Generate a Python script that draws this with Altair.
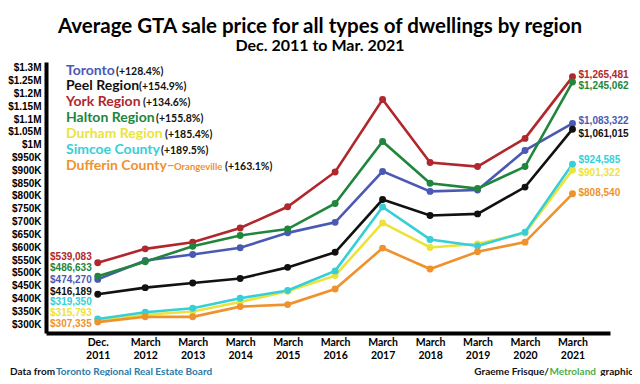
import json
import altair as alt
import pandas as pd

# ---------------- data ----------------
periods = ["Dec. 2011", "March 2012", "March 2013", "March 2014", "March 2015",
           "March 2016", "March 2017", "March 2018", "March 2019", "March 2020", "March 2021"]
regions = ["Toronto", "Peel Region", "York Region", "Halton Region",
           "Durham Region", "Simcoe County", "Dufferin County"]
changes = ["(+128.4%)", "(+154.9%)", "(+134.6%)", "(+155.8%)",
           "(+185.4%)", "(+189.5%)", "(+163.1%)"]

toronto = [474270, 548000, 571500, 597700, 656000, 697000, 896000, 818000, 823500, 978000, 1083322]
peel = [416189, 442000, 460000, 477600, 521200, 580200, 786000, 723800, 730100, 834800, 1061015]
york = [539083, 593500, 619400, 675000, 758000, 894000, 1177000, 930800, 915000, 1025000, 1265481]
halton = [486633, 543000, 604000, 646000, 671000, 771000, 1013000, 850000, 829000, 915000, 1245062]
durham = [315793, 336000, 349000, 386000, 428000, 489000, 695000, 599000, 613000, 655000, 901322]
simcoe = [319350, 346200, 361700, 400400, 431000, 507500, 757400, 630300, 604900, 658800, 924585]
dufferin = [307335, 328000, 328000, 367900, 375800, 436700, 596400, 514600, 582100, 619800, 808540]

y_ticks = list(range(300000, 1300001, 50000))

# ---------------- styles / layout ----------------
colors = ["#4a5ab4", "#111111", "#b0272d", "#20863c", "#ece33a", "#35cfd8", "#ef922e"]
series = [toronto, peel, york, halton, durham, simcoe, dufferin]

W, H = 564, 271
NUM_FONT = "Liberation Sans"
TXT_FONT = "Lato"

# label offsets (pixels) for start / end value labels
start_dy = [1, -2, -6, -8, -7, -17, 2]
end_dy = [-2, 5, -2, 4, 3, -4, -1]

rows = []
for r, vals in zip(regions, series):
    for i, v in enumerate(vals):
        rows.append({"region": r, "idx": i, "price": v, "lab": f"${v:,}"})
df = pd.DataFrame(rows)

xlab_expr = "split(" + json.dumps([p.replace(" ", "|") for p in periods]) + "[datum.value], '|')"

X = alt.X("idx:Q",
          scale=alt.Scale(domain=[-1.09, 10.79], nice=False, zero=False),
          axis=alt.Axis(values=list(range(len(periods))), labelExpr=xlab_expr, title=None,
                        grid=False, ticks=False, domainColor="black", domainWidth=4,
                        labelFont=TXT_FONT, labelFontWeight="bold", labelFontSize=10.5,
                        labelColor="black", labelPadding=4, labelLineHeight=13,
                        labelBaseline="top"))
Y = alt.Y("price:Q",
          scale=alt.Scale(domain=[264844, 1323437], nice=False, zero=False),
          axis=alt.Axis(values=y_ticks,
                        labelExpr="datum.value >= 1000000 ? '$' + format(datum.value/1000000, '~g') + 'M' : '$' + format(datum.value/1000, 'd') + 'K'",
                        title=None, grid=False, ticks=False, domainColor="black", domainWidth=4,
                        labelFont=NUM_FONT, labelFontWeight="bold", labelFontSize=10,
                        labelColor="black", labelPadding=5))
C = alt.Color("region:N", scale=alt.Scale(domain=regions, range=colors), legend=None)

base = alt.Chart(df).encode(x=X, y=Y, color=C)
lines = base.mark_line(strokeWidth=2.6)
points = base.mark_point(filled=True, size=48, opacity=1)

layers = [lines, points]
for k, r in enumerate(regions):
    first = df[(df.region == r) & (df.idx == 0)]
    last = df[(df.region == r) & (df.idx == len(periods) - 1)]
    layers.append(alt.Chart(first).mark_text(align="right", baseline="middle", dx=-6, dy=start_dy[k],
                                             font=NUM_FONT, fontWeight="bold", fontSize=10,
                                             color=colors[k]).encode(x=X, y=Y, text="lab:N"))
    layers.append(alt.Chart(last).mark_text(align="left", baseline="middle", dx=6, dy=end_dy[k],
                                            font=NUM_FONT, fontWeight="bold", fontSize=10,
                                            color=colors[k]).encode(x=X, y=Y, text="lab:N"))

# legend block (pixel positions relative to plot origin)
leg_y = [8.5, 24, 40, 56, 72, 88, 104]
pct_x = [70, 93, 97, 110, 119, 115, 179]
ann = []
for k, r in enumerate(regions):
    name = r if k < 6 else "Dufferin County\u2013"
    ann.append({"t": name, "px": 20, "py": leg_y[k], "col": colors[k], "fs": 14})
    ann.append({"t": changes[k], "px": pct_x[k], "py": leg_y[k] + 1, "col": "#111111", "fs": 10.5})
ann.append({"t": "Orangeville", "px": 128, "py": leg_y[6] + 1, "col": colors[6], "fs": 9.5})
ann_df = pd.DataFrame(ann)
legend = alt.Chart(ann_df).mark_text(align="left", baseline="middle", font=TXT_FONT, fontWeight="bold").encode(
    x=alt.X("px:Q", scale=None, axis=None),
    y=alt.Y("py:Q", scale=None, axis=None),
    color=alt.Color("col:N", scale=None, legend=None),
    size=alt.Size("fs:Q", scale=None, legend=None),
    text="t:N")
layers.append(legend)

# footer
foot = pd.DataFrame([
    {"t": "Data from", "px": -36, "py": 310, "col": "#111111"},
    {"t": "Toronto Regional Real Estate Board", "px": 10, "py": 310, "col": "#2a7aa8"},
])
foot_r = pd.DataFrame([
    {"t": "graphic", "px": 587, "py": 310, "col": "#111111"},
    {"t": "Metroland", "px": 550, "py": 310, "col": "#4cae4f"},
    {"t": "Graeme Frisque/", "px": 503, "py": 310, "col": "#111111"},
])
footer_l = alt.Chart(foot).mark_text(align="left", baseline="middle", font=TXT_FONT, fontWeight="bold", fontSize=10).encode(
    x=alt.X("px:Q", scale=None, axis=None), y=alt.Y("py:Q", scale=None, axis=None),
    color=alt.Color("col:N", scale=None, legend=None), text="t:N")
footer_r = alt.Chart(foot_r).mark_text(align="right", baseline="middle", font=TXT_FONT, fontWeight="bold", fontSize=10).encode(
    x=alt.X("px:Q", scale=None, axis=None), y=alt.Y("py:Q", scale=None, axis=None),
    color=alt.Color("col:N", scale=None, legend=None), text="t:N")
layers += [footer_l, footer_r]

chart = alt.layer(*layers).resolve_scale(color="independent", size="independent").properties(
    width=W, height=H,
    autosize=alt.AutoSizeParams(type="none"),
    padding={"left": 38, "top": 54, "right": 22, "bottom": 43},
    title=alt.TitleParams(
        text="Average GTA sale price for all types of dwellings by region",
        subtitle="Dec. 2011 to Mar. 2021",
        font=TXT_FONT, fontSize=20.5, fontWeight="bold", color="black",
        subtitleFont=TXT_FONT, subtitleFontSize=16, subtitleFontWeight="bold", subtitleColor="black",
        anchor="middle", frame="group", dx=-8, offset=8, subtitlePadding=1),
).configure_view(stroke=None)

chart.save("out.html", embed_options={"renderer": "svg", "actions": False})
